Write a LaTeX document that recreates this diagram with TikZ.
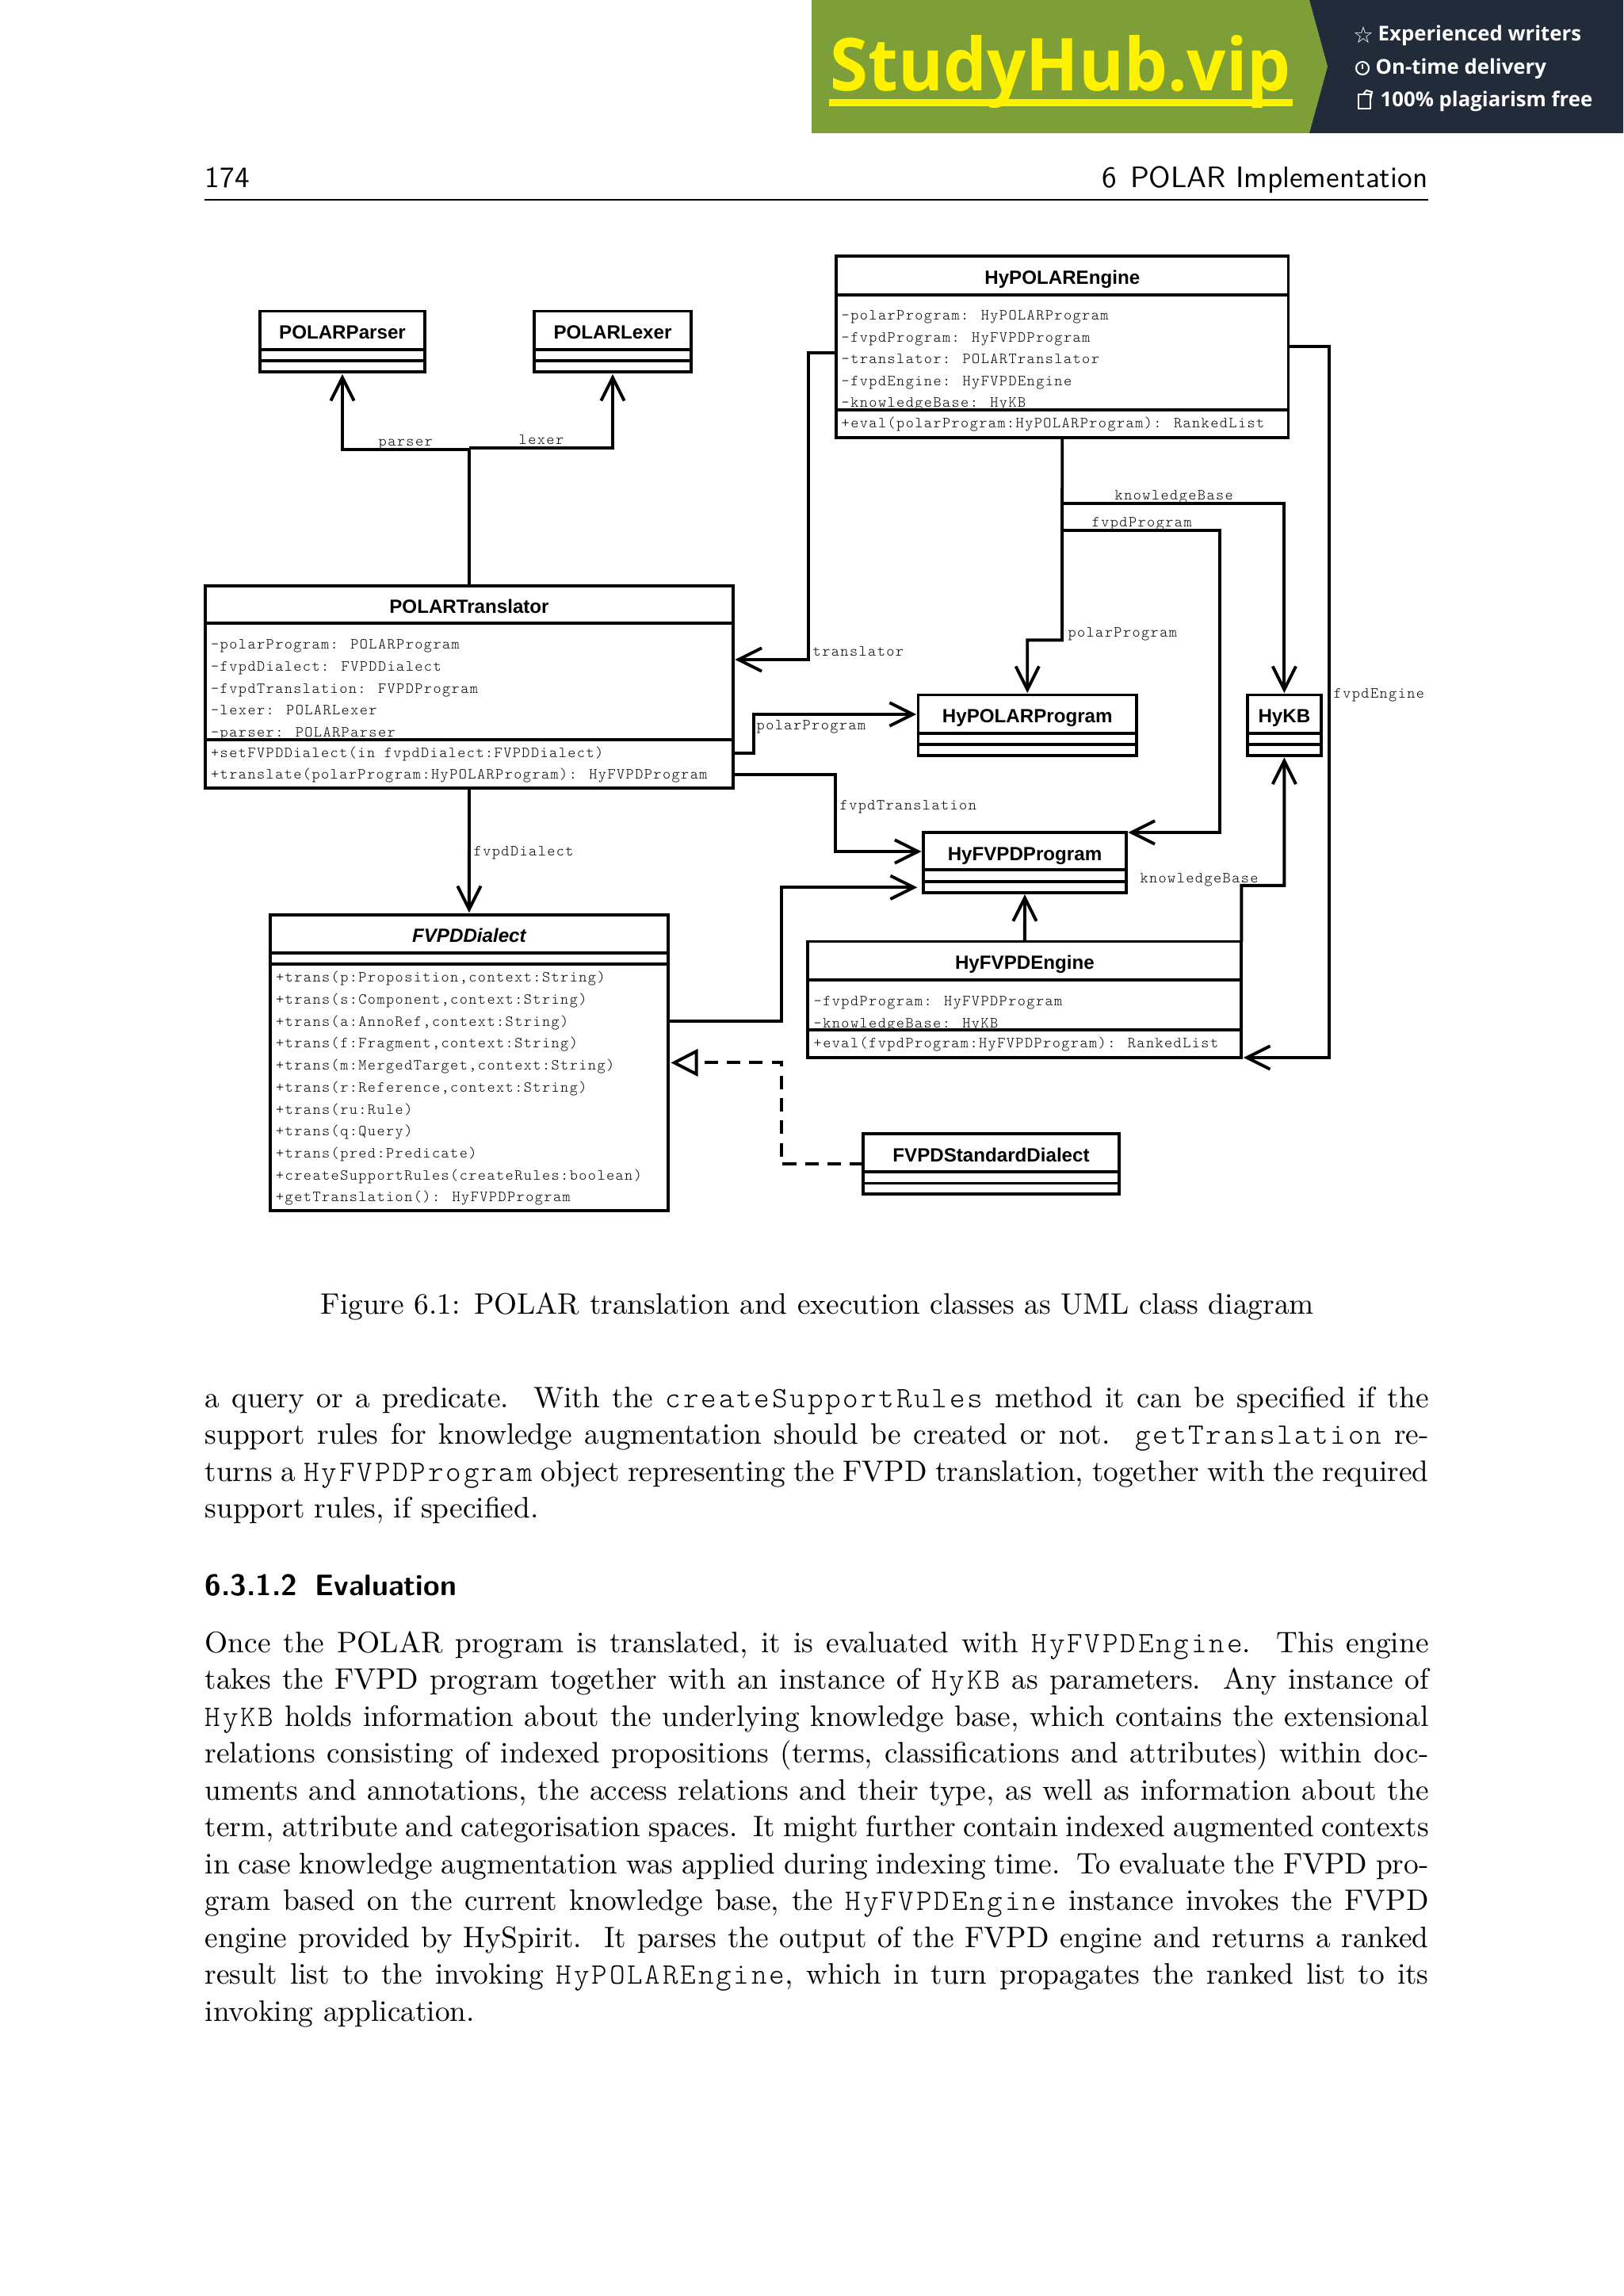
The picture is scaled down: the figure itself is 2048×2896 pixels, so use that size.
\documentclass[tikz,border=0pt]{standalone}
\usepackage{graphicx}
\usepackage{fontspec}
\usetikzlibrary{arrows.meta}
\newfontfamily\ttlab[LetterSpace=7.5]{Latin Modern Mono Light}
\newfontfamily\ttbody[LetterSpace=7.5]{Latin Modern Mono Light}
\newfontfamily\arialish{Liberation Sans}
\newfontfamily\bannerfont{Open Sans}
\newfontfamily\dejavu{DejaVu Sans}
\definecolor{bangreen}{HTML}{7E9F38}
\definecolor{bandark}{HTML}{222B3A}
\newcommand\tb[1]{{\ttbody #1}}
\newcounter{mbc}
\newcommand\PX{0.29326}
\tikzset{
  umlbox/.style={draw=black,fill=white,line width=1.15pt,inner sep=0pt,outer sep=0pt,anchor=north west,rectangle},
  umlline/.style={draw=black,line width=1.15pt},
  nav/.style={draw=black,line width=1.15pt,line join=miter,shorten >=0.7pt,-{Straight Barb[length=8.6pt,width=8.6pt]}},
  impl/.style={draw=black,line width=1.15pt,dash pattern=on 5pt off 3.3pt,-{Triangle[open,fill=white,length=10pt,width=10pt]}},
  cname/.style={font=\arialish\bfseries\fontsize{7.08}{8}\selectfont,inner sep=0pt,anchor=base},
  memb/.style={font=\ttlab\fontsize{5.66}{7}\selectfont,inner sep=0pt,anchor=base west},
  lbl/.style={font=\ttlab\fontsize{5.66}{7}\selectfont,inner sep=0pt,anchor=base west},
  para/.style={font=\fontsize{10.95}{13.6}\selectfont,inner sep=0pt,anchor=base west},
  hdr/.style={font=\sffamily\fontsize{10.95}{13.6}\selectfont,inner sep=0pt,anchor=base west},
  bantext/.style={font=\bannerfont\bfseries\fontsize{7.55}{9}\selectfont,text=white,inner sep=0pt,anchor=base west},
}
% name, L, T, R, B, title baseline, title
\newcommand\classbox[7]{%
  \node[umlbox,minimum width={(#4-#2)*\PX pt},minimum height={(#5-#3)*\PX pt}] (#1) at (#2,#3) {};
  \node[cname] (#1-t) at ({(#2+#4)/2},#6) {#7};
}
% name, y
\newcommand\divider[2]{\draw[umlline] (#1.west |- 0,#2) -- (#1.east |- 0,#2);}
% x, baseline, text
\newcommand\memline[3]{\stepcounter{mbc}\node[memb] (m\arabic{mbc}) at (#1,#2) {#3};}
% name, L, T, R, B : method compartment, painted over clipped descenders
\newcommand\methods[5]{\node[umlbox,minimum width={(#4-#2)*\PX pt},minimum height={(#5-#3)*\PX pt}] (#1) at (#2,#3) {};}
% baseline, text
\newcommand\textline[3]{\node[para] (#1) at (258,#2) {\hbox to 452.8pt{#3}};}
\begin{document}
\begin{tikzpicture}[x=0.29326pt,y=-0.29326pt]
\useasboundingbox (0,0) rectangle (2048,2896);
\fill[white] (0,0) rectangle (2048,2896);
% banner
\fill[bangreen] (1024,0) -- (1652,0) -- (1675,84) -- (1652,168) -- (1024,168) -- cycle;
\fill[bandark] (1652,0) -- (2048,0) -- (2048,168) -- (1652,168) -- (1675,84) -- cycle;
\node[inner sep=0pt,anchor=base west,text=yellow,font=\bannerfont\bfseries\fontsize{27}{30}\selectfont] (study) at (1047,115) {\scalebox{0.943}[1]{StudyHub.vip}};
\fill[yellow] (1045.5,125) rectangle (1631,134);
\node[inner sep=0pt,text=white,font=\dejavu\bfseries\fontsize{8.5}{9}\selectfont] (star) at (1720,44) {☆};
\node[bantext] (b1) at (1738,52) {Experienced writers};
\draw[white,line width=0.6pt] (1719,86) circle (8);
\draw[white,line width=0.6pt] (1719,81) -- (1719,87);
\node[bantext] (b2) at (1735,94) {On-time delivery};
\draw[white,line width=0.6pt] (1714,119) rectangle (1729,137);
\draw[white,line width=0.6pt] (1720,119) -- (1724,114) -- (1731,116) -- (1729,125);
\node[bantext] (b3) at (1741,135) {100\% plagiarism free};
% running head
\node[hdr] (pg) at (258,237) {174};
\node[hdr,anchor=base east] (rh) at (1802,237) {6\hspace{0.45em}POLAR Implementation};
\draw[line width=0.6pt] (258,252) -- (1802,252);

% classes
\classbox{parser}{328}{392.5}{536}{469.4}{427.5}{POLARParser}
\divider{parser}{441}\divider{parser}{455}
\classbox{lexer}{674}{392.5}{872}{469.4}{427.5}{POLARLexer}
\divider{lexer}{441}\divider{lexer}{455}

\classbox{trans}{259}{739}{925}{994}{773.5}{POLARTranslator}
\divider{trans}{786}
\memline{265.5}{818.5}{-polarProgram: POLARProgram}
\memline{265.5}{846}{-fvpdDialect: FVPDDialect}
\memline{265.5}{874}{-fvpdTranslation: FVPDProgram}
\memline{265.5}{901.5}{-lexer: POLARLexer}
\memline{265.5}{929}{-parser: POLARParser}
\methods{trans-m}{259}{932.7}{925}{994}
\memline{265.5}{955}{+setFVPDDialect(in fvpdDialect:FVPDDialect)}
\memline{265.5}{982.5}{+translate(polarProgram:HyPOLARProgram): HyFVPDProgram}

\classbox{eng}{1055}{323.4}{1625.5}{551.6}{358.5}{HyPOLAREngine}
\divider{eng}{371.6}
\memline{1061}{403.5}{-polarProgram: HyPOLARProgram}
\memline{1061}{431.5}{-fvpdProgram: HyFVPDProgram}
\memline{1061}{458.5}{-translator: POLARTranslator}
\memline{1061}{486.5}{-fvpdEngine: HyFVPDEngine}
\memline{1061}{514}{-knowledgeBase: HyKB}
\methods{eng-m}{1055}{516.7}{1625.5}{551.6}
\memline{1061}{540}{+eval(polarProgram:HyPOLARProgram): RankedList}

\classbox{hpp}{1158.5}{876.5}{1434}{953}{911.5}{HyPOLARProgram}
\divider{hpp}{925}\divider{hpp}{938.7}
\classbox{hykb}{1573.7}{876.5}{1667}{953}{911.5}{HyKB}
\divider{hykb}{925}\divider{hykb}{938.7}

\classbox{fvp}{1165}{1050}{1421}{1125.7}{1085}{HyFVPDProgram}
\divider{fvp}{1097}\divider{fvp}{1111.8}

\classbox{hfe}{1019.4}{1187.5}{1566.4}{1334}{1222.5}{HyFVPDEngine}
\divider{hfe}{1236.4}
\memline{1026}{1268.5}{-fvpdProgram: HyFVPDProgram}
\memline{1026}{1296}{-knowledgeBase: HyKB}
\methods{hfe-m}{1019.4}{1299}{1566.4}{1334}
\memline{1026}{1321.5}{+eval(fvpdProgram:HyFVPDProgram): RankedList}

\classbox{std}{1089.4}{1430.4}{1411.6}{1506}{1465}{FVPDStandardDialect}
\divider{std}{1478}\divider{std}{1492.5}

\classbox{dial}{340.8}{1153.6}{843}{1527}{1188}{\itshape FVPDDialect}
\divider{dial}{1201.8}\divider{dial}{1215.7}
\memline{347.5}{1238.5}{+trans(p:Proposition,context:String)}
\memline{347.5}{1266.3}{+trans(s:Component,context:String)}
\memline{347.5}{1294}{+trans(a:AnnoRef,context:String)}
\memline{347.5}{1321.8}{+trans(f:Fragment,context:String)}
\memline{347.5}{1349.5}{+trans(m:MergedTarget,context:String)}
\memline{347.5}{1377.3}{+trans(r:Reference,context:String)}
\memline{347.5}{1405}{+trans(ru:Rule)}
\memline{347.5}{1432.5}{+trans(q:Query)}
\memline{347.5}{1460}{+trans(pred:Predicate)}
\memline{347.5}{1488}{+createSupportRules(createRules:boolean)}
\memline{347.5}{1515.5}{+getTranslation(): HyFVPDProgram}

% connector waypoints
\coordinate (jp) at (592,566.8);
\coordinate (jl) at (592,565.4);
\coordinate (e1) at (1340,807.3);
\coordinate (e2) at (1340,635);
\coordinate (e3) at (1340,669);
\coordinate (k1) at (1538.7,1050);
\coordinate (f1) at (1677,1334);
\coordinate (t1) at (1020,832);
\coordinate (p1) at (950.7,901);
\coordinate (p2) at (1054.4,1074);
\coordinate (d1) at (985.7,1119.3);
\coordinate (k2) at (1566.4,1116.8);
\coordinate (d2) at (985.7,1340.4);

% connectors
\draw[nav] (trans.north) -- (jp) -| (parser.south);
\draw[nav] (jl) -| (lexer.south);
\draw[nav] (eng.south) -- (e1) -| (hpp.north);
\draw[nav] (e2) -| (hykb.north);
\draw[nav] (e3) -| (k1) -- (fvp.north east);
\draw[nav] (eng.east |- 0,437) -| (f1) -- (hfe.south east);
\draw[nav] (eng.west |- 0,444.6) -| (t1) -- (trans.east |- t1);
\draw[nav] (trans.east |- 0,949.7) -| (p1) -- (hpp.west |- p1);
\draw[nav] (trans.east |- 0,977.2) -| (p2) -- (fvp.west |- p2);
\draw[nav] (trans.south) -- (dial.north);
\draw[nav,shorten >=2.3pt] (dial.east |- 0,1288) -| (d1) -- (fvp.west |- d1);
\draw[nav] (hfe.north) -- (fvp.south);
\draw[nav] (hfe.north east) -- (k2) -| (hykb.south);
\draw[impl,shorten >=1pt] (std.west) -| (d2) -- (dial.east |- d2);

% connector labels
\node[lbl] (l1) at (477,562.5) {parser};
\node[lbl] (l2) at (654,561) {lexer};
\node[lbl] (l3) at (1025,827) {translator};
\node[lbl] (l4) at (954,920.5) {polarProgram};
\node[lbl] (l5) at (1059,1021) {fvpdTranslation};
\node[lbl] (l6) at (597,1079.5) {fvpdDialect};
\node[lbl] (l7) at (1406,631) {knowledgeBase};
\node[lbl] (l8) at (1377,665) {fvpdProgram};
\node[lbl] (l9) at (1346.8,803) {polarProgram};
\node[lbl] (l10) at (1682,880.5) {fvpdEngine};
\node[lbl] (l11) at (1437.8,1113) {knowledgeBase};

% caption and body
\node[para] (cap) at (404,1657) {\hbox to 367.5pt{Figure 6.1: POLAR translation and execution classes as UML class diagram}};
\textline{t1l}{1775}{a query or a predicate.\ \ With the \tb{createSupportRules} method it can be specified if the}
\textline{t2l}{1821.5}{support rules for knowledge augmentation should be created or not.\ \ \tb{getTranslation} re-}
\textline{t3l}{1868}{turns a \tb{HyFVPDProgram} object representing the FVPD translation, together with the required}
\node[para] (t4l) at (258,1914.5) {support rules, if specified.};
\node[inner sep=0pt,anchor=base west,font=\sffamily\bfseries\fontsize{10.95}{13.6}\selectfont] (head) at (258,2012.5) {6.3.1.2\hspace{0.6em}Evaluation};
\textline{u1}{2084}{Once the POLAR program is translated, it is evaluated with \tb{HyFVPDEngine}.\ \ This engine}
\textline{u2}{2130.5}{takes the FVPD program together with an instance of \tb{HyKB} as parameters.\ \ Any instance of}
\textline{u3}{2177}{\tb{HyKB} holds information about the underlying knowledge base, which contains the extensional}
\textline{u4}{2223.5}{relations consisting of indexed propositions (terms, classifications and attributes) within doc-}
\textline{u5}{2270}{uments and annotations, the access relations and their type, as well as information about the}
\textline{u6}{2316.5}{term, attribute and categorisation spaces.\ \ It might further contain indexed augmented contexts}
\textline{u7}{2363}{in case knowledge augmentation was applied during indexing time.\ \ To evaluate the FVPD pro-}
\textline{u8}{2409.5}{gram based on the current knowledge base, the \tb{HyFVPDEngine} instance invokes the FVPD}
\textline{u9}{2456}{engine provided by HySpirit.\ \ It parses the output of the FVPD engine and returns a ranked}
\textline{u10}{2502.5}{result list to the invoking \tb{HyPOLAREngine}, which in turn propagates the ranked list to its}
\node[para] (u11) at (258,2549) {invoking application.};
\end{tikzpicture}
\end{document}
